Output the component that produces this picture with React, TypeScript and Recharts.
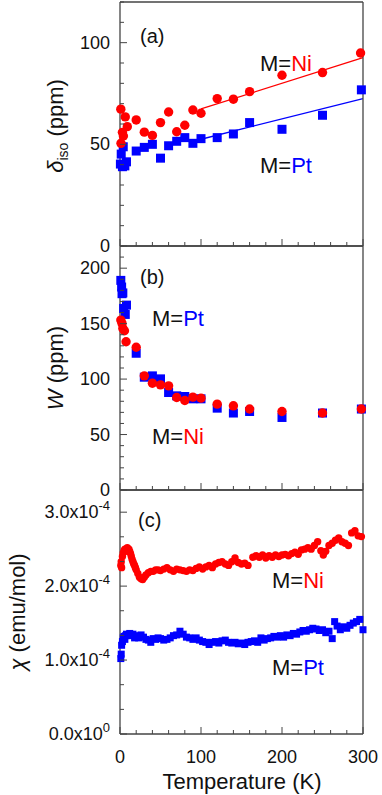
import React from 'react';
import { ScatterChart, Scatter, XAxis, YAxis, ReferenceLine, Customized } from 'recharts';

const FONT = '"Liberation Sans", Arial, Helvetica, sans-serif';
const FRAME = '#444';
const RED = '#ff0000';
const BLUE = '#0000ff';

// x axis (shared by all three panels)
const xTicks = [0, 20, 40, 60, 80, 100, 120, 140, 160, 180, 200, 220, 240, 260, 280, 300];
const xMajor = [0, 100, 200, 300];

// (a) isotropic shift, ppm
const tNiA = [1, 1.2, 3, 4.2, 6.5, 9, 20, 30, 40, 50, 60, 70, 80, 90, 100, 120, 140, 160, 200, 250, 297];
const isoNi = [67.3, 50.5, 55.9, 54.1, 63.5, 58.7, 62, 56, 54.4, 60.7, 65.9, 56.2, 59.4, 66.9, 65.3, 72.5, 72.2, 75.9, 84, 85.3, 94.9];
const tPtA = [0.5, 1.5, 3, 4, 6, 8, 20, 30, 40, 50, 60, 70, 80, 90, 100, 120, 140, 160, 200, 250, 298];
const isoPt = [40.3, 45.2, 39, 48.8, 39.4, 41.4, 46.7, 48.5, 50, 43.2, 49.3, 51.5, 53.3, 50.5, 52.8, 53.3, 55.1, 60.7, 57.4, 64.3, 76.8];
const fitT = [100, 300];
const fitNi = [67.4, 92.6];
const fitPt = [52.5, 72.5];
const yTicksA = [0, 10, 20, 30, 40, 50, 60, 70, 80, 90, 100, 110, 120];
const yMajorA = [0, 50, 100];

// (b) line width W, ppm
const tPtB = [1, 2, 2.5, 3.5, 4.5, 6.5, 8, 20, 30, 40, 50, 60, 70, 80, 90, 100, 120, 140, 160, 200, 250, 298];
const wPt = [189, 183, 177, 177.7, 163.7, 158.3, 166.7, 123.3, 101.7, 102.9, 100.2, 87.9, 84.9, 84.3, 82.2, 82.2, 73.8, 69.4, 70.8, 65.4, 69.4, 73];
const tNiB = [1, 2.5, 3.5, 5.5, 7.5, 20, 30, 40, 50, 60, 70, 80, 90, 100, 120, 140, 160, 200, 250, 298];
const wNi = [153.2, 150.2, 145.7, 143.6, 133.7, 128.7, 102.9, 96.3, 94.8, 93.9, 83.4, 80.7, 83.7, 82.8, 77.4, 75.9, 73, 70.8, 69.4, 73];
const yTicksB = [0, 10, 20, 30, 40, 50, 60, 70, 80, 90, 100, 110, 120, 130, 140, 150, 160, 170, 180, 190, 200, 210, 220];
const yMajorB = [0, 50, 100, 150, 200];

// (c) susceptibility, in units of 1e-4 emu/mol
const tNiC = [1, 1.5, 2, 3, 4, 5, 6, 7, 8, 9, 10, 11, 12, 13, 14, 15, 16, 17, 18, 19, 20, 22, 24, 26, 28, 30, 32, 35, 38, 41, 44, 47, 50, 54, 58, 62, 66, 70, 74, 78, 82, 86, 90, 94, 98, 102, 106, 110, 114, 118, 122, 126, 130, 134, 138, 142, 146, 150, 154, 158, 164, 168, 172, 176, 180, 184, 188, 192, 196, 200, 204, 208, 212, 216, 220, 224, 228, 232, 236, 240, 244, 248, 251, 254, 258, 262, 266, 270, 274, 278, 282, 286, 290, 294, 298];
const chiNi = [2.28, 2.33, 2.25, 2.4, 2.45, 2.48, 2.5, 2.47, 2.5, 2.52, 2.5, 2.5, 2.47, 2.44, 2.4, 2.36, 2.33, 2.3, 2.28, 2.25, 2.22, 2.17, 2.12, 2.1, 2.09, 2.12, 2.15, 2.18, 2.2, 2.2, 2.22, 2.22, 2.21, 2.23, 2.25, 2.22, 2.2, 2.23, 2.22, 2.21, 2.2, 2.22, 2.21, 2.24, 2.26, 2.23, 2.26, 2.28, 2.25, 2.3, 2.32, 2.33, 2.3, 2.28, 2.33, 2.38, 2.32, 2.3, 2.31, 2.28, 2.39, 2.41, 2.39, 2.42, 2.38, 2.41, 2.39, 2.42, 2.4, 2.42, 2.43, 2.41, 2.44, 2.46, 2.43, 2.49, 2.5, 2.52, 2.5, 2.55, 2.6, 2.48, 2.42, 2.47, 2.55, 2.58, 2.62, 2.65, 2.6, 2.58, 2.55, 2.72, 2.75, 2.68, 2.67];
const tPtC = [1, 1.5, 2, 3, 4, 5, 6, 7, 8, 10, 12, 14, 16, 18, 20, 23, 26, 29, 32, 35, 38, 41, 44, 47, 50, 54, 58, 62, 66, 70, 74, 78, 82, 86, 90, 94, 98, 102, 106, 110, 114, 118, 122, 126, 130, 134, 138, 142, 146, 150, 154, 158, 162, 166, 170, 174, 178, 182, 186, 190, 194, 198, 202, 206, 210, 214, 218, 222, 226, 230, 234, 238, 242, 246, 250, 254, 258, 262, 265, 268, 272, 276, 280, 284, 288, 292, 296, 300];
const chiPt = [1.02, 1.08, 1.2, 1.25, 1.3, 1.32, 1.28, 1.33, 1.35, 1.34, 1.36, 1.33, 1.35, 1.3, 1.33, 1.3, 1.34, 1.31, 1.28, 1.27, 1.24, 1.29, 1.28, 1.3, 1.29, 1.27, 1.28, 1.3, 1.33, 1.34, 1.39, 1.35, 1.31, 1.3, 1.28, 1.3, 1.27, 1.25, 1.24, 1.21, 1.24, 1.25, 1.23, 1.26, 1.27, 1.24, 1.23, 1.24, 1.22, 1.23, 1.21, 1.24, 1.25, 1.26, 1.24, 1.3, 1.27, 1.29, 1.3, 1.32, 1.31, 1.33, 1.31, 1.34, 1.33, 1.36, 1.35, 1.38, 1.4, 1.39, 1.41, 1.43, 1.42, 1.4, 1.41, 1.37, 1.39, 1.29, 1.52, 1.46, 1.41, 1.45, 1.43, 1.47, 1.5, 1.52, 1.55, 1.41];
const yTicksC = [0, 0.333, 0.667, 1, 1.333, 1.667, 2, 2.333, 2.667, 3];
const yMajorC = [0, 1, 2, 3];

const zip = (ts: number[], vs: number[]) => ts.map((t, i) => ({ t, v: vs[i] }));

const isMajor = (list: number[], v: number) => list.some((m) => Math.abs(m - v) < 1e-6);

const txt = { fontFamily: FONT, fill: '#111' };

// ticks point inwards on every side of the frame
const BottomTick = (major: number[], labels: boolean) => (p: any) => {
  const big = isMajor(major, p.payload.value);
  return (
    <g>
      <line x1={p.x} y1={p.y} x2={p.x} y2={p.y - (big ? 7 : 4)} stroke={FRAME} />
      {labels && big && (
        <text x={p.x} y={p.y + 29} textAnchor="middle" fontSize={18} {...txt}>
          {p.payload.value}
        </text>
      )}
    </g>
  );
};

const TopTick = (major: number[]) => (p: any) => {
  const big = isMajor(major, p.payload.value);
  return <line x1={p.x} y1={p.y} x2={p.x} y2={p.y + (big ? 7 : 4)} stroke={FRAME} />;
};

const LeftTick = (major: number[], fmt: (v: number) => React.ReactNode) => (p: any) => {
  const big = isMajor(major, p.payload.value);
  return (
    <g>
      <line x1={p.x} y1={p.y} x2={p.x + (big ? 7 : 4)} y2={p.y} stroke={FRAME} />
      {big && (
        <text x={p.x - 10} y={p.y + 6} textAnchor="end" fontSize={18} {...txt}>
          {fmt(p.payload.value)}
        </text>
      )}
    </g>
  );
};

const RightTick = (major: number[]) => (p: any) => {
  const big = isMajor(major, p.payload.value);
  return <line x1={p.x} y1={p.y} x2={p.x - (big ? 7 : 4)} y2={p.y} stroke={FRAME} />;
};

const plain = (v: number) => `${v}`;
const sci = (v: number) => (
  <>
    {`${v.toFixed(1)}x10`}
    <tspan dy={-8} fontSize={13}>
      {v === 0 ? '0' : '-4'}
    </tspan>
  </>
);

const circle = (r: number) => (p: any) => <circle cx={p.cx} cy={p.cy} r={r} fill={RED} />;
const square = (s: number) => (p: any) => (
  <rect x={p.cx - s / 2} y={p.cy - s / 2} width={s} height={s} fill={BLUE} />
);

const Label = ({ x, y, metal, color }: { x: number; y: number; metal: string; color: string }) => (
  <text x={x} y={y} fontSize={22} {...txt}>
    M=<tspan fill={color}>{metal}</tspan>
  </text>
);

const axisLine = { stroke: FRAME, strokeWidth: 1.3 };

// axes are 1px thick so that recharts still draws them
const Frame = ({ yTicks, yMajor, yDomain, fmt, xLabels }: any) => [
  <XAxis
    key="b"
    dataKey="t"
    type="number"
    domain={[0, 300]}
    ticks={xTicks}
    interval={0}
    height={1}
    tickSize={0}
    tickMargin={0}
    axisLine={axisLine}
    tickLine={false}
    tick={BottomTick(xMajor, xLabels)}
  />,
  <XAxis
    key="t"
    xAxisId="top"
    orientation="top"
    type="number"
    domain={[0, 300]}
    ticks={xTicks}
    interval={0}
    height={1}
    tickSize={0}
    tickMargin={0}
    axisLine={axisLine}
    tickLine={false}
    tick={TopTick(xMajor)}
  />,
  <YAxis
    key="l"
    dataKey="v"
    type="number"
    domain={yDomain}
    ticks={yTicks}
    interval={0}
    width={1}
    tickSize={0}
    tickMargin={0}
    axisLine={axisLine}
    tickLine={false}
    tick={LeftTick(yMajor, fmt)}
  />,
  <YAxis
    key="r"
    yAxisId="right"
    orientation="right"
    type="number"
    domain={yDomain}
    ticks={yTicks}
    interval={0}
    width={1}
    tickSize={0}
    tickMargin={0}
    axisLine={axisLine}
    tickLine={false}
    tick={RightTick(yMajor)}
  />,
];

const W = 382;
const MARGIN = { left: 119, right: 18 };

export default function App() {
  return (
    <div style={{ position: 'absolute', left: 0, top: 0, width: W, height: 795, background: '#fff' }}>
      {/* (a) - extra 10px at the bottom keeps the "0" label from being clipped */}
      <div style={{ position: 'absolute', left: 0, top: 0 }}>
        <ScatterChart width={W} height={257} margin={{ ...MARGIN, top: 1, bottom: 10 }}>
          {Frame({ yTicks: yTicksA, yMajor: yMajorA, yDomain: [0, 120], fmt: plain, xLabels: false })}
          <ReferenceLine
            segment={[{ x: fitT[0], y: fitNi[0] }, { x: fitT[1], y: fitNi[1] }]}
            stroke={RED}
            strokeWidth={1.3}
          />
          <ReferenceLine
            segment={[{ x: fitT[0], y: fitPt[0] }, { x: fitT[1], y: fitPt[1] }]}
            stroke={BLUE}
            strokeWidth={1.3}
          />
          <Scatter data={zip(tPtA, isoPt)} shape={square(9)} isAnimationActive={false} />
          <Scatter data={zip(tNiA, isoNi)} shape={circle(4.7)} isAnimationActive={false} />
          <Customized
            component={() => (
              <g>
                <text x={140} y={43} fontSize={20} {...txt}>(a)</text>
                <Label x={260} y={71} metal="Ni" color={RED} />
                <Label x={260} y={173} metal="Pt" color={BLUE} />
                <text transform="translate(56,126) rotate(-90)" y={7} textAnchor="middle" fontSize={22} {...txt}>
                  <tspan fontStyle="italic">δ</tspan>
                  <tspan fontSize={14} dy={5}>iso</tspan>
                  <tspan dy={-5}> (ppm)</tspan>
                </text>
              </g>
            )}
          />
        </ScatterChart>
      </div>

      {/* (b) */}
      <div style={{ position: 'absolute', left: 0, top: 245 }}>
        <ScatterChart width={W} height={256} margin={{ ...MARGIN, top: 0, bottom: 10 }}>
          {Frame({ yTicks: yTicksB, yMajor: yMajorB, yDomain: [0, 220], fmt: plain, xLabels: false })}
          <Scatter data={zip(tPtB, wPt)} shape={square(9)} isAnimationActive={false} />
          <Scatter data={zip(tNiB, wNi)} shape={circle(4.7)} isAnimationActive={false} />
          <Customized
            component={() => (
              <g>
                <text x={140} y={39} fontSize={20} {...txt}>(b)</text>
                <Label x={152} y={81} metal="Pt" color={BLUE} />
                <Label x={152} y={199} metal="Ni" color={RED} />
                <text transform="translate(56,123) rotate(-90)" y={7} textAnchor="middle" fontSize={22} {...txt}>
                  <tspan fontStyle="italic">W</tspan>
                  <tspan> (ppm)</tspan>
                </text>
              </g>
            )}
          />
        </ScatterChart>
      </div>

      {/* (c) */}
      <div style={{ position: 'absolute', left: 0, top: 489 }}>
        <ScatterChart width={W} height={306} margin={{ ...MARGIN, top: 0, bottom: 60 }}>
          {Frame({ yTicks: yTicksC, yMajor: yMajorC, yDomain: [0, 3.3], fmt: sci, xLabels: true })}
          <Scatter data={zip(tPtC, chiPt)} shape={square(7)} isAnimationActive={false} />
          <Scatter data={zip(tNiC, chiNi)} shape={circle(3.7)} isAnimationActive={false} />
          <Customized
            component={() => (
              <g>
                <text x={138} y={38} fontSize={20} {...txt}>(c)</text>
                <Label x={272} y={99} metal="Ni" color={RED} />
                <Label x={272} y={186} metal="Pt" color={BLUE} />
                <text transform="translate(18,123) rotate(-90)" y={7} textAnchor="middle" fontSize={22} {...txt}>
                  <tspan fontStyle="italic">χ</tspan>
                  <tspan> (emu/mol)</tspan>
                </text>
                <text x={242} y={300} textAnchor="middle" fontSize={22} {...txt}>
                  Temperature (K)
                </text>
              </g>
            )}
          />
        </ScatterChart>
      </div>
    </div>
  );
}
